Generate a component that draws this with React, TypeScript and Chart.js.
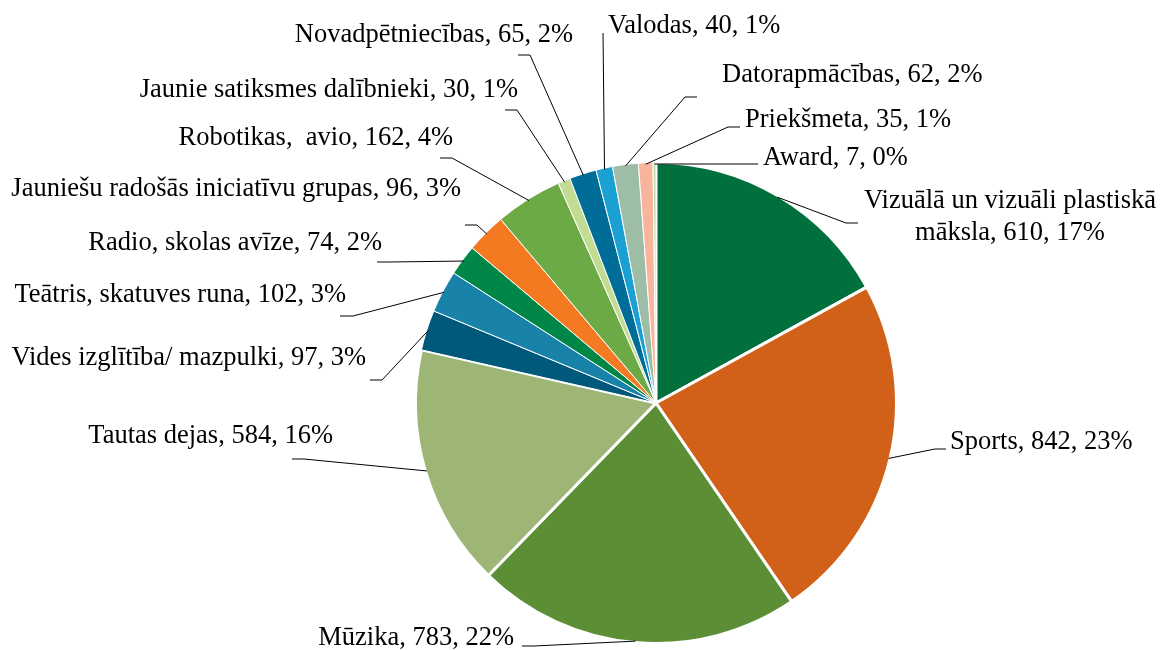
import React, { useEffect, useRef } from "react";
import { Chart, PieController, ArcElement } from "chart.js";

Chart.register(PieController, ArcElement);

// ---- data ----
const categories = [
  "Vizuālā un vizuāli plastiskā māksla",
  "Sports",
  "Mūzika",
  "Tautas dejas",
  "Vides izglītība/ mazpulki",
  "Teātris, skatuves runa",
  "Radio, skolas avīze",
  "Jauniešu radošās iniciatīvu grupas",
  "Robotikas,  avio",
  "Jaunie satiksmes dalībnieki",
  "Novadpētniecības",
  "Valodas",
  "Datorapmācības",
  "Priekšmeta",
  "Award",
];
const values = [610, 842, 783, 584, 97, 102, 74, 96, 162, 30, 65, 40, 62, 35, 7];

// ---- styles ----
const colors = [
  "#00703D",
  "#D16119",
  "#5B8E35",
  "#9DB676",
  "#00587B",
  "#1882A9",
  "#008748",
  "#F47A22",
  "#6CAA45",
  "#C2DC93",
  "#006D98",
  "#1BA0D3",
  "#9DBDA7",
  "#F8B49D",
  "#C2D8B2",
];
const borderWidths = [3, 3, 3, 3, 1, 1, 1, 1, 1, 1, 1, 1, 1, 1, 1];

// label layout: anchor (x, first baseline, alignment) and the leader-line tail end relative to it
type Anchor = { x: number; y: number; align: CanvasTextAlign; maxWidth?: number };
const labelAnchors: Anchor[] = [
  { x: 1010, y: 208, align: "center", maxWidth: 320 },
  { x: 950, y: 449, align: "left" },
  { x: 514, y: 645, align: "right" },
  { x: 333, y: 443, align: "right" },
  { x: 366, y: 365, align: "right" },
  { x: 346, y: 302, align: "right" },
  { x: 382, y: 250, align: "right" },
  { x: 461, y: 196, align: "right" },
  { x: 453, y: 145, align: "right" },
  { x: 518, y: 97, align: "right" },
  { x: 573, y: 42, align: "right" },
  { x: 608, y: 33, align: "left" },
  { x: 722, y: 82, align: "left" },
  { x: 745, y: 127, align: "left" },
  { x: 763, y: 165, align: "left" },
];
const leaderTails = [
  { dx: -152, dy: 15, len: 12 },
  { dx: -4, dy: 0, len: 11 },
  { dx: 8, dy: 1, len: 12 },
  { dx: -41, dy: 16, len: 12 },
  { dx: 4, dy: 15, len: 12 },
  { dx: -6, dy: 14, len: 13 },
  { dx: -5, dy: 12, len: 12 },
  { dx: 4, dy: 29, len: 12 },
  { dx: -13, dy: 13, len: 12 },
  { dx: -13, dy: 13, len: 12 },
  { dx: -55, dy: 13, len: 12 },
  { dx: -5, dy: 0, len: 0 },
  { dx: -25, dy: 15, len: 12 },
  { dx: -5, dy: 0, len: 12 },
  { dx: -5, dy: -1, len: 12 },
];

const FONT = '26.5px "Liberation Serif", "Times New Roman", serif';
const LINE_HEIGHT = 32;

// Percentages that sum to 100 (largest remainder), as in the source
function percentLabels(vals: number[]): number[] {
  const total = vals.reduce((a, b) => a + b, 0);
  const raw = vals.map((v) => (v / total) * 100);
  const floors = raw.map((r) => Math.floor(r));
  let rest = 100 - floors.reduce((a, b) => a + b, 0);
  const order = raw
    .map((r, i) => ({ i, rem: r - Math.floor(r) }))
    .sort((a, b) => b.rem - a.rem);
  const out = floors.slice();
  for (let k = 0; k < order.length && rest > 0; k++, rest--) out[order[k].i] += 1;
  return out;
}

function wrapText(ctx: CanvasRenderingContext2D, text: string, maxWidth?: number): string[] {
  if (!maxWidth) return [text];
  const words = text.split(" ");
  const lines: string[] = [];
  let cur = "";
  for (const w of words) {
    const test = cur ? cur + " " + w : w;
    if (cur && ctx.measureText(test).width > maxWidth) {
      lines.push(cur);
      cur = w;
    } else cur = test;
  }
  if (cur) lines.push(cur);
  return lines;
}

const outsideLabels = {
  id: "outsideLabels",
  afterDatasetsDraw(chart: any) {
    const ctx: CanvasRenderingContext2D = chart.ctx;
    const meta = chart.getDatasetMeta(0);
    const pcts = percentLabels(values);
    ctx.save();
    ctx.font = FONT;
    ctx.fillStyle = "#000";
    ctx.strokeStyle = "#000";
    ctx.lineWidth = 1;
    meta.data.forEach((arc: any, i: number) => {
      const p = arc.getProps(["x", "y", "startAngle", "endAngle", "outerRadius"], true);
      const mid = (p.startAngle + p.endAngle) / 2;
      const r = p.outerRadius - 1.5;
      const sx = p.x + Math.cos(mid) * r;
      const sy = p.y + Math.sin(mid) * r;
      const a = labelAnchors[i];
      const t = leaderTails[i];
      const tx = a.x + t.dx;
      const ty = a.y + t.dy;
      const ex = tx < p.x ? tx + t.len : tx - t.len;
      ctx.beginPath();
      ctx.moveTo(sx, sy);
      ctx.lineTo(ex, ty);
      ctx.lineTo(tx, ty);
      ctx.stroke();

      const text = `${categories[i]}, ${values[i]}, ${pcts[i]}%`;
      const lines = wrapText(ctx, text, a.maxWidth);
      ctx.textAlign = a.align;
      ctx.textBaseline = "alphabetic";
      lines.forEach((ln, k) => ctx.fillText(ln, a.x, a.y + k * LINE_HEIGHT));
    });
    ctx.restore();
  },
};

export default function App() {
  const ref = useRef<HTMLCanvasElement | null>(null);
  useEffect(() => {
    if (!ref.current) return;
    const chart = new Chart(ref.current, {
      type: "pie",
      data: {
        labels: categories,
        datasets: [
          {
            data: values,
            backgroundColor: colors,
            borderColor: "#ffffff",
            borderWidth: borderWidths,
          },
        ],
      },
      options: {
        responsive: false,
        animation: false,
        events: [],
        layout: { padding: { left: 414, right: 264, top: 161, bottom: 5 } },
        plugins: {
          legend: { display: false },
          tooltip: { enabled: false },
        },
      } as any,
      plugins: [outsideLabels],
    });
    return () => chart.destroy();
  }, []);
  return (
    <div style={{ position: "absolute", left: 0, top: 0, width: 1162, height: 650, background: "#fff" }}>
      <canvas ref={ref} width={1162} height={650} />
    </div>
  );
}
